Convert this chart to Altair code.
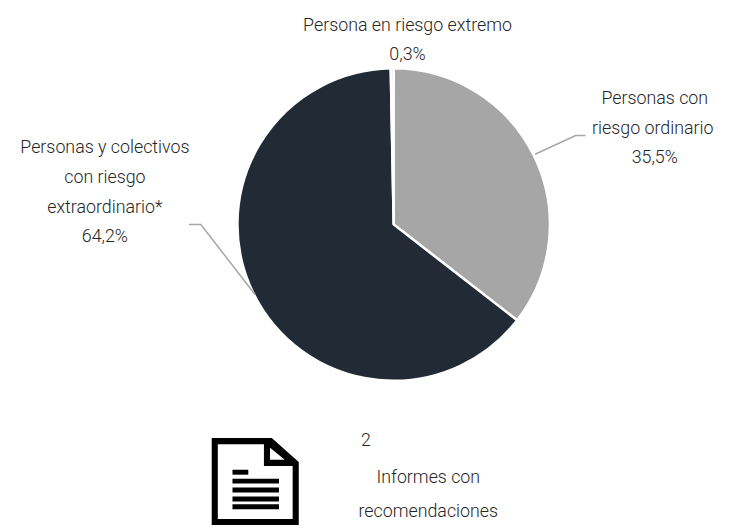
import altair as alt
import pandas as pd

categories = ["Personas con riesgo ordinario", "Personas y colectivos con riesgo extraordinario", "Persona en riesgo extremo"]
values = [35.5, 64.2, 0.3]
order = [1, 2, 3]
colors = ["#A6A6A6", "#222B35", "#DCE6F1"]
labels = [
    ("Persona en riesgo extremo", 412, 28),
    ("0,3%", 412, 58),
    ("Personas con", 662, 102),
    ("riesgo ordinario", 660, 132),
    ("35,5%", 662, 162),
    ("Personas y colectivos", 106, 152),
    ("con riesgo", 106, 182),
    ("extraordinario*", 106, 212),
    ("64,2%", 106, 242),
    ("2", 370, 448),
    ("Informes con", 433, 485),
    ("recomendaciones", 433, 520),
]
FONT = "Roboto"
OFF = 8

df = pd.DataFrame({"cat": categories, "val": values, "ord": order})
pie = alt.Chart(df).mark_arc(outerRadius=158, stroke="white", strokeWidth=2.5).encode(
    theta=alt.Theta("val:Q", stack=True, scale=alt.Scale(domain=[0, 100])),
    order=alt.Order("ord:Q"),
    color=alt.Color("cat:N", scale=alt.Scale(domain=categories, range=colors), legend=None),
    x=alt.value(398 - OFF),
    y=alt.value(224 - OFF),
)

txt = pd.DataFrame({"t": [l[0] for l in labels], "x": [l[1] - OFF for l in labels], "y": [l[2] - OFF for l in labels]})
text = alt.Chart(txt).mark_text(font=FONT, fontWeight=300, fontSize=18, color="#262626", baseline="alphabetic", align="center").encode(
    x=alt.X("x:Q", scale=None), y=alt.Y("y:Q", scale=None), text="t:N"
)

def seg(points, color="#A6A6A6", sw=1.5):
    d = pd.DataFrame({"x": [p[0] - OFF for p in points], "y": [p[1] - OFF for p in points], "i": range(len(points))})
    return alt.Chart(d).mark_line(color=color, strokeWidth=sw).encode(
        x=alt.X("x:Q", scale=None), y=alt.Y("y:Q", scale=None), order="i:Q")

lead1 = seg([(191, 224), (203, 224), (258, 295)])
lead2 = seg([(541, 153), (582, 134), (592, 134)])

def rect(x1, y1, x2, y2, color):
    return alt.Chart(pd.DataFrame({"a": [0]})).mark_rect(color=color).encode(
        x=alt.value(x1 - OFF), x2=alt.value(x2 - OFF), y=alt.value(y1 - OFF), y2=alt.value(y2 - OFF))

doc = alt.Chart(pd.DataFrame({"a": [0]})).mark_point(
    shape="M-1 -1 L0.38 -1 L1 -0.45 L1 1 L-1 1 Z M-0.86 -0.86 L-0.86 0.86 L0.86 0.86 L0.86 -0.36 L0.2 -0.36 L0.2 -0.86 Z M0.34 -0.78 L0.34 -0.5 L0.68 -0.5 Z",
    filled=True, color="black", size=7744, opacity=1
).encode(x=alt.value(258 - OFF), y=alt.value(484 - OFF))

icon_lines = [rect(235, 472, 251, 477, "black")] + [rect(235, y, 282, y + 5, "black") for y in (481, 490, 499, 507)]

chart = alt.layer(pie, lead1, lead2, text, doc, *icon_lines).properties(
    width=722, height=521, padding=0
).configure_view(stroke=None)

chart.save("out.html", embed_options={"renderer": "svg", "actions": False})
